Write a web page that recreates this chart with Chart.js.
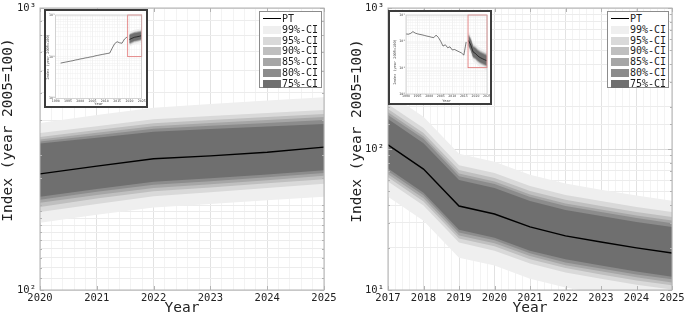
<!DOCTYPE html>
<html>
<head>
<meta charset="utf-8">
<title>Index fan charts</title>
<script src="https://cdn.jsdelivr.net/npm/chart.js@4.4.1/dist/chart.umd.min.js"></script>
<style>
  html, body { margin: 0; padding: 0; background: #fff; }
  #fig { position: relative; width: 685px; height: 320px; overflow: hidden; }
  canvas { position: absolute; display: block; }
  .inset { position: absolute; background: #fff; border: 2px solid #3c3c3c; box-sizing: border-box; }
  .inset canvas { left: 0; top: 0; }
  .legend { position: absolute; background: #fff; border: 1px solid #8c8c8c; box-sizing: border-box;
            font: 10px 'DejaVu Sans Mono', monospace; color: #1e1e1e; }
  .legend .row { position: absolute; left: 0; right: 0; height: 10px; }
  .legend .sw { position: absolute; left: 3px; top: 1px; width: 18px; height: 8px; }
  .legend .ln { position: absolute; left: 3px; top: 4px; width: 18px; height: 0; border-top: 1.5px solid #000; }
  .legend .tx { position: absolute; left: 22px; top: -2px; line-height: 14px; white-space: nowrap; }
</style>
</head>
<body>
<div id="fig">
  <canvas id="leftMain" width="345" height="320" style="left:0;top:0"></canvas>
  <canvas id="rightMain" width="340" height="320" style="left:345px;top:0"></canvas>
  <div class="inset" style="left:44px;top:9px;width:104px;height:99px"><canvas id="leftInset" width="100" height="95"></canvas></div>
  <div class="inset" style="left:388px;top:10px;width:104px;height:95px"><canvas id="rightInset" width="100" height="91"></canvas></div>
  <div class="legend" id="leftLegend" style="left:259px;top:11px;width:63px;height:77px"></div>
  <div class="legend" id="rightLegend" style="left:607px;top:11px;width:62px;height:77px"></div>
</div>
<script>
// ---- data: left panel (2020-2025) ----
const leftYears = [2020, 2021, 2022, 2023, 2024, 2025];
const leftPT    = [258, 275, 292, 299, 308, 321];
const leftUp99  = [391, 417, 443, 457, 470, 483];
const leftUp95  = [360, 381, 403, 414, 424, 435];
const leftUp90  = [349, 369, 390, 401, 411, 421];
const leftUp85  = [342, 361, 381, 391, 401, 411];
const leftUp80  = [336, 354, 373, 382, 391, 401];
const leftUp75  = [331, 347, 364, 372, 380, 388];
const leftLo75  = [214, 228, 242, 249, 257, 266];
const leftLo80  = [209, 223, 236, 243, 251, 260];
const leftLo85  = [204, 217, 230, 237, 245, 254];
const leftLo90  = [197, 211, 224, 231, 239, 247];
const leftLo95  = [189, 202, 215, 222, 230, 238];
const leftLo99  = [173, 185, 196, 202, 208, 214];

// ---- data: right panel (2017-2025) ----
const rightYears = [2017, 2018, 2019, 2020, 2021, 2022, 2023, 2024, 2025];
const rightPT    = [107, 72, 39.4, 34.6, 28.0, 24.2, 21.9, 19.9, 18.3];
const rightUp99  = [251, 169, 92.6, 81.3, 65.8, 56.9, 51.5, 46.8, 43.0];
const rightUp95  = [208, 141, 76.8, 67.5, 54.6, 47.2, 42.7, 38.8, 35.7];
const rightUp90  = [192, 130, 70.9, 62.3, 50.4, 43.6, 39.4, 35.8, 32.9];
const rightUp85  = [182, 123, 67.0, 58.8, 47.6, 41.1, 37.2, 33.8, 31.1];
const rightUp80  = [174, 118, 64.2, 56.4, 45.6, 39.4, 35.7, 32.4, 29.8];
const rightUp75  = [163, 110, 60.3, 52.9, 42.8, 37.0, 33.5, 30.4, 28.0];
const rightLo75  = [72.6, 49.0, 26.8, 23.5, 19.0, 16.5, 14.9, 13.5, 12.4];
const rightLo80  = [69.4, 46.9, 25.6, 22.5, 18.2, 15.7, 14.2, 12.9, 11.9];
const rightLo85  = [66.2, 44.7, 24.4, 21.5, 17.4, 15.0, 13.6, 12.3, 11.3];
const rightLo90  = [63.0, 42.5, 23.2, 20.4, 16.5, 14.3, 12.9, 11.7, 10.8];
const rightLo95  = [58.7, 39.7, 21.7, 19.0, 15.4, 13.3, 12.0, 10.9, 10.1];
const rightLo99  = [45.9, 31.0, 16.9, 14.9, 12.0, 10.4, 9.4, 8.6, 7.9];

// ---- data: inset history ----
const leftHistYears = [1992, 1993, 1994, 1995, 1996, 1997, 1998, 1999, 2000, 2001, 2002, 2003, 2004, 2005,
                       2006, 2007, 2008, 2009, 2010, 2011, 2012, 2013, 2014, 2015, 2016, 2017, 2018, 2019];
const leftHist = [70, 72, 74, 76, 78, 80, 83, 85, 88, 90, 93, 95, 98, 100,
                  104, 107, 110, 113, 116, 119, 122, 160, 205, 228, 215, 210, 265, 295];
const rightHistYears = [1990, 1991, 1992, 1993, 1994, 1995, 1996, 1997, 1998, 1999, 2000, 2001, 2002, 2003,
                        2004, 2005, 2006, 2007, 2008, 2009, 2010, 2011, 2012, 2013, 2014, 2015, 2016];
const rightHist = [191, 186, 200, 234, 205, 192, 183, 176, 167, 158, 152, 143, 138, 172,
                   140, 100, 66, 74, 57, 62, 47, 49, 44, 40, 36, 30, 95];

const bandLabels = ['99%-CI', '95%-CI', '90%-CI', '85%-CI', '80%-CI', '75%-CI'];
const bandColors = ['#efefef', '#d9d9d9', '#bfbfbf', '#a6a6a6', '#8c8c8c', '#6f6f6f'];
const leftUppers  = [leftUp99, leftUp95, leftUp90, leftUp85, leftUp80, leftUp75];
const leftLowers  = [leftLo99, leftLo95, leftLo90, leftLo85, leftLo80, leftLo75];
const rightUppers = [rightUp99, rightUp95, rightUp90, rightUp85, rightUp80, rightUp75];
const rightLowers = [rightLo99, rightLo95, rightLo90, rightLo85, rightLo80, rightLo75];

Chart.defaults.font.family = "'DejaVu Sans Mono', monospace";
Chart.defaults.color = '#222';

const SUP = { 0: '\u2070', 1: '\u00b9', 2: '\u00b2', 3: '\u00b3' };
function powLabel(v) {
  const e = Math.log10(v), r = Math.round(e);
  return Math.abs(e - r) < 1e-6 ? '10' + SUP[r] : '';
}
function isWhole(v) { return Math.abs(v - Math.round(v)) < 1e-6; }
function xy(xs, ys) { return xs.map((x, i) => ({ x: x, y: ys[i] })); }

function fanSets(years, pt, uppers, lowers, lw) {
  const ds = [{ label: 'PT', data: xy(years, pt), borderColor: '#000', borderWidth: lw, pointRadius: 0, fill: false }];
  // inner bands first in the list so they are painted last (on top)
  for (let k = bandLabels.length - 1; k >= 0; k--) {
    ds.push({ label: bandLabels[k], data: xy(years, uppers[k]), backgroundColor: bandColors[k],
              borderColor: 'rgba(0,0,0,0)', borderWidth: 0, pointRadius: 0, fill: '+1' });
    ds.push({ label: '', data: xy(years, lowers[k]), borderColor: 'rgba(0,0,0,0)', borderWidth: 0, pointRadius: 0, fill: false });
  }
  return ds;
}

const frameTicks = {
  id: 'frameTicks',
  afterDraw(chart, args, o) {
    if (!o || !o.color) return;
    const { ctx, chartArea: a, scales } = chart;
    ctx.save();
    ctx.strokeStyle = o.color;
    ctx.lineWidth = o.width || 1;
    ctx.strokeRect(a.left, a.top, a.right - a.left, a.bottom - a.top);
    if (o.major) {
      ctx.beginPath();
      scales.y.ticks.forEach(t => {
        const py = Math.round(scales.y.getPixelForValue(t.value)) + 0.5;
        const len = t.label ? o.major : o.minor;
        ctx.moveTo(a.left, py); ctx.lineTo(a.left + len, py);
        ctx.moveTo(a.right, py); ctx.lineTo(a.right - len, py);
      });
      scales.x.ticks.forEach(t => {
        if (!isWhole(t.value)) return;
        const px = Math.round(scales.x.getPixelForValue(t.value)) + 0.5;
        ctx.moveTo(px, a.bottom); ctx.lineTo(px, a.bottom - o.major);
        ctx.moveTo(px, a.top); ctx.lineTo(px, a.top + o.major);
      });
      ctx.stroke();
    }
    ctx.restore();
  }
};

const sideTitle = {
  id: 'sideTitle',
  afterDraw(chart, args, o) {
    if (!o || !o.text) return;
    const ctx = chart.ctx;
    ctx.save();
    ctx.translate(o.x, o.y);
    ctx.rotate(-Math.PI / 2);
    ctx.font = o.size + "px 'DejaVu Sans Mono', monospace";
    ctx.fillStyle = o.color || '#222';
    ctx.textAlign = 'center';
    ctx.textBaseline = 'middle';
    ctx.fillText(o.text, 0, 0);
    ctx.restore();
  }
};

const zoomBox = {
  id: 'zoomBox',
  afterDatasetsDraw(chart, args, o) {
    if (!o || !o.color) return;
    const { ctx, scales } = chart;
    const x0 = scales.x.getPixelForValue(o.x0), x1 = scales.x.getPixelForValue(o.x1);
    const y0 = scales.y.getPixelForValue(o.y0), y1 = scales.y.getPixelForValue(o.y1);
    ctx.save();
    ctx.strokeStyle = o.color;
    ctx.lineWidth = 0.8;
    ctx.strokeRect(x0, y1, x1 - x0, y0 - y1);
    ctx.restore();
  }
};

function mainChart(id, years, pt, uppers, lowers, yMin, yMax, padRight, yWidth, titlePos) {
  return new Chart(document.getElementById(id), {
    type: 'line',
    data: { datasets: fanSets(years, pt, uppers, lowers, 1.4) },
    options: {
      responsive: false,
      animation: false,
      events: [],
      layout: { padding: { top: 8, right: padRight, left: 0, bottom: 0 } },
      plugins: {
        legend: { display: false },
        tooltip: { enabled: false },
        frameTicks: { color: '#b3b3b3', major: 4, minor: 2 },
        sideTitle: { text: 'Index (year 2005=100)', x: titlePos[0], y: titlePos[1], size: 14.5 }
      },
      scales: {
        x: {
          type: 'linear', min: years[0], max: years[years.length - 1],
          ticks: { stepSize: 0.2, autoSkip: false, maxRotation: 0, padding: 2, font: { size: 10.5 },
                   callback: v => isWhole(v) ? String(Math.round(v)) : '' },
          grid: { drawTicks: false, color: c => isWhole(c.tick.value) ? '#e2e2e2' : '#f3f3f3' },
          border: { display: false },
          title: { display: true, text: 'Year', font: { size: 14.5 }, padding: { top: 0, bottom: 3 } },
          afterFit: s => { s.height = 30; s.paddingLeft = 0; s.paddingRight = 0; }
        },
        y: {
          type: 'logarithmic', min: yMin, max: yMax,
          ticks: { autoSkip: false, padding: 4, font: { size: 10.5 }, callback: powLabel },
          grid: { drawTicks: false, color: c => powLabel(c.tick.value) ? '#dadada' : '#ececec' },
          border: { display: false },
          afterFit: s => { s.width = yWidth; s.paddingTop = 0; s.paddingBottom = 0; }
        }
      }
    },
    plugins: [frameTicks, sideTitle]
  });
}

function insetChart(id, o) {
  const ds = fanSets(o.years, o.pt, o.uppers, o.lowers, 0.6);
  ds.unshift({ label: 'hist', data: xy(o.histYears, o.hist), borderColor: '#222', borderWidth: 0.6, pointRadius: 0, fill: false });
  return new Chart(document.getElementById(id), {
    type: 'line',
    data: { datasets: ds },
    options: {
      responsive: false,
      animation: false,
      events: [],
      layout: { padding: { top: o.padTop, right: o.padRight, left: 0, bottom: 0 } },
      plugins: {
        legend: { display: false },
        tooltip: { enabled: false },
        frameTicks: { color: '#bdbdbd', width: 0.6 },
        zoomBox: { color: '#e07070', x0: o.box[0], x1: o.box[1], y0: o.box[2], y1: o.box[3] },
        sideTitle: { text: 'Index (year 2005=100)', x: o.titlePos[0], y: o.titlePos[1], size: 3.6, color: '#444' }
      },
      scales: {
        x: {
          type: 'linear', min: 1990, max: 2025,
          ticks: { stepSize: 1, autoSkip: false, maxRotation: 0, padding: 0.6, font: { size: 3.3 }, color: '#444',
                   callback: v => (Math.round(v) % 5 === 0) ? String(Math.round(v)) : '' },
          grid: { drawTicks: false, lineWidth: 0.5, color: c => Math.round(c.tick.value) % 5 === 0 ? '#e2e2e2' : '#f2f2f2' },
          border: { display: false },
          title: { display: true, text: 'Year', font: { size: 3.6 }, color: '#444', padding: 0 },
          afterFit: s => { s.height = o.xHeight; s.paddingLeft = 0; s.paddingRight = 0; }
        },
        y: {
          type: 'logarithmic', min: o.yMin, max: o.yMax,
          ticks: { autoSkip: false, padding: 0.8, font: { size: 3.3 }, color: '#444', callback: powLabel },
          grid: { drawTicks: false, lineWidth: 0.5, color: '#efefef' },
          border: { display: false },
          afterFit: s => { s.width = o.yWidth; s.paddingTop = 0; s.paddingBottom = 0; }
        }
      }
    },
    plugins: [frameTicks, sideTitle, zoomBox]
  });
}

function buildLegend(id) {
  const el = document.getElementById(id);
  const rows = [{ label: 'PT', line: true }].concat(bandLabels.map((l, i) => ({ label: l, color: bandColors[i] })));
  rows.forEach((r, i) => {
    const row = document.createElement('div');
    row.className = 'row';
    row.style.top = (2 + 10.75 * i) + 'px';
    const mark = document.createElement('div');
    if (r.line) { mark.className = 'ln'; } else { mark.className = 'sw'; mark.style.background = r.color; }
    const tx = document.createElement('div');
    tx.className = 'tx';
    tx.textContent = r.label;
    row.appendChild(mark);
    row.appendChild(tx);
    el.appendChild(row);
  });
}

mainChart('leftMain', leftYears, leftPT, leftUppers, leftLowers, 100, 1000, 21, 40, [8.5, 130]);
mainChart('rightMain', rightYears, rightPT, rightUppers, rightLowers, 10, 1000, 13, 43, [12, 131]);

insetChart('leftInset', {
  histYears: leftHistYears, hist: leftHist, years: leftYears, pt: leftPT, uppers: leftUppers, lowers: leftLowers,
  yMin: 10, yMax: 1000, box: [2019.3, 2025, 100, 1000],
  padTop: 4, padRight: 4.3, yWidth: 9.7, xHeight: 7.7, titlePos: [2.5, 46]
});
insetChart('rightInset', {
  histYears: rightHistYears, hist: rightHist, years: rightYears, pt: rightPT, uppers: rightUppers, lowers: rightLowers,
  yMin: 1, yMax: 1000, box: [2016.8, 2025, 10, 1000],
  padTop: 3, padRight: 3, yWidth: 16, xHeight: 9, titlePos: [5, 50]
});

buildLegend('leftLegend');
buildLegend('rightLegend');
</script>
</body>
</html>
